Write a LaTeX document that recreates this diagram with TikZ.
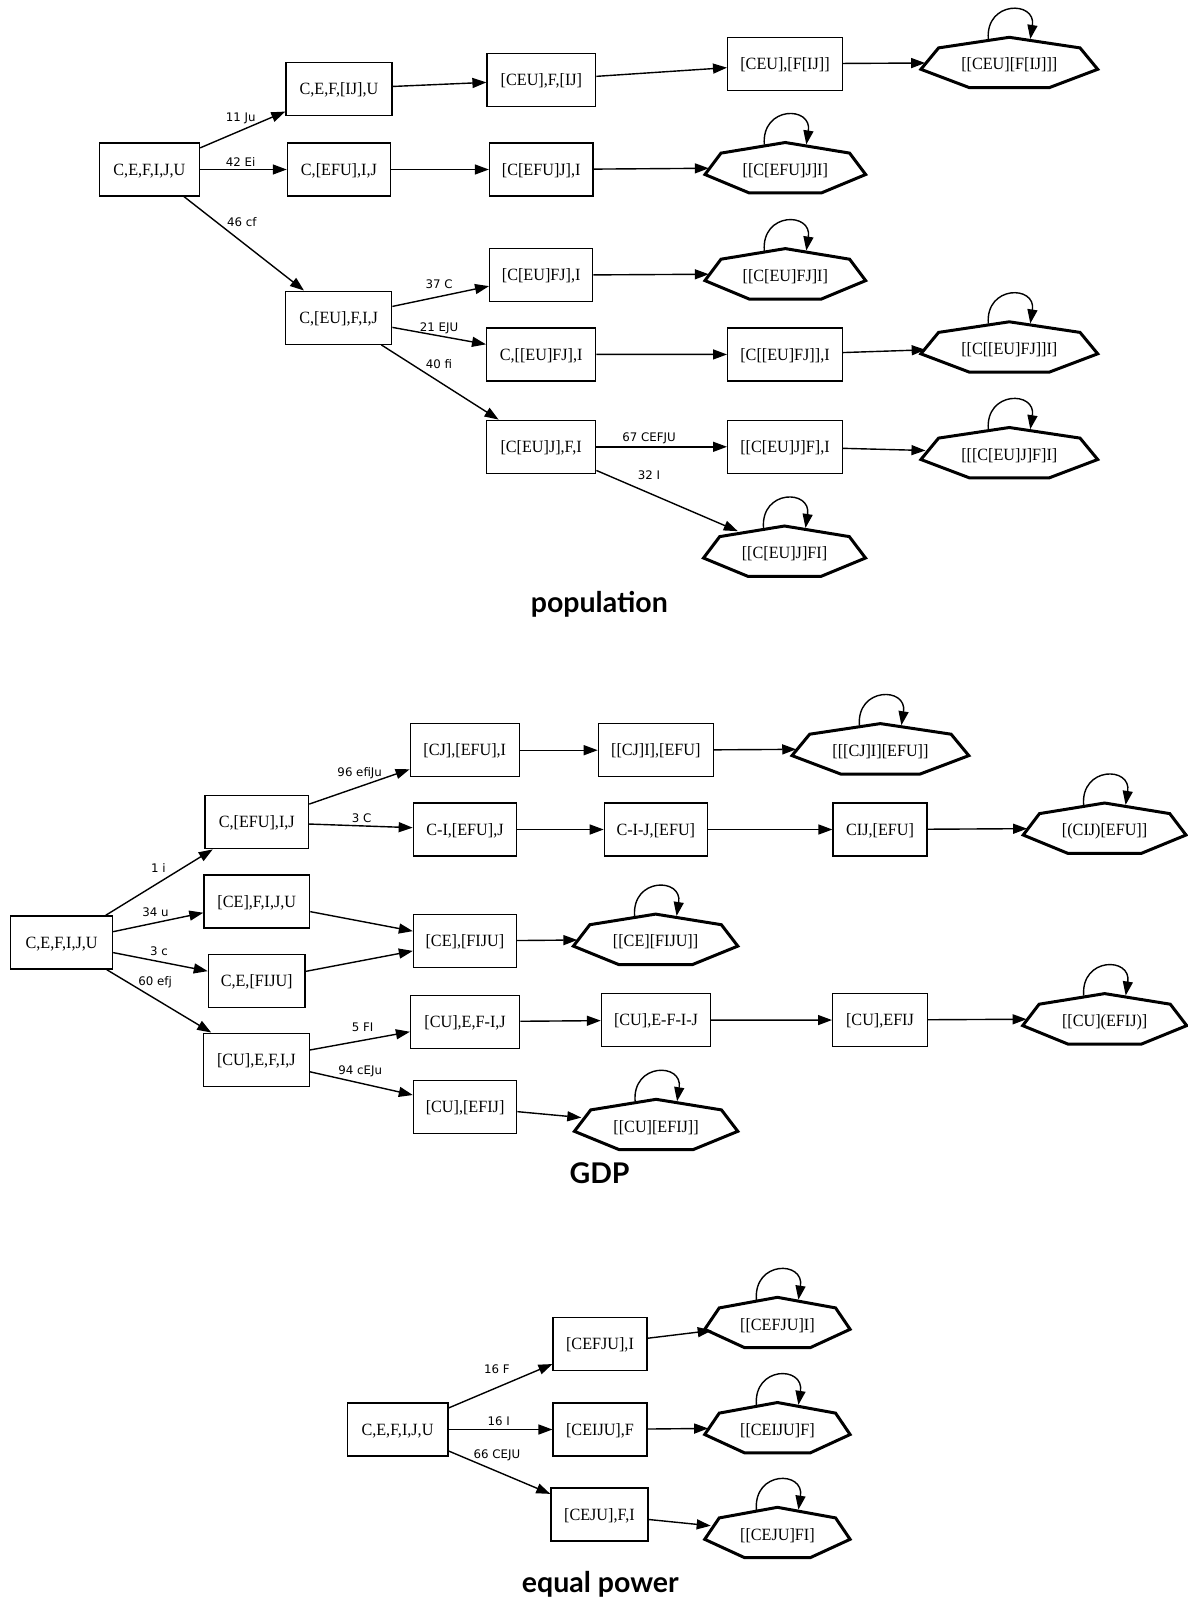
\documentclass[tikz,border=0pt]{standalone}
\usepackage{fontspec}
\newfontfamily\nodefont[FakeStretch=0.94]{Liberation Serif}
\newfontfamily\lblfont{DejaVu Sans}
\newfontfamily\titlefont{Lato}
\usetikzlibrary{arrows.meta,shapes.geometric}

\tikzset{
  statebox/.style={rectangle, draw=black, line width=1.4pt, minimum width=#1,
    minimum height=53pt, inner sep=0pt, text height=13.5pt, text depth=2pt,
    font=\nodefont\fontsize{17.2pt}{20pt}\selectfont},
  hepnode/.style={ellipse, minimum height=50pt, inner sep=0pt,
    text height=15pt, text depth=0pt,
    font=\nodefont\fontsize{17.2pt}{20pt}\selectfont},
  heptline/.style={line width=3pt, line join=miter},
  trans/.style={line width=1.4pt, -{Triangle[length=14pt,width=10pt]}},
  lbl/.style={font=\lblfont\fontsize{11.8pt}{13pt}\selectfont, inner sep=0pt},
  sectiontitle/.style={font=\titlefont\bfseries\fontsize{28.5pt}{32pt}\selectfont,
    anchor=base, inner sep=0pt},
}

% absorbing state: heptagon outline around a hidden elliptic node, with a self-loop
% #1 name, #2 x, #3 y, #4 half width, #5 text
\newcommand\heptstate[5]{%
  \node[hepnode, minimum width={1.9*#4}] (#1) at (#2,#3) {#5};
  \draw[heptline] ([shift={(0,-25.2)}]#1.center)
     -- ([shift={(0.80*#4,-14.6)}]#1.center)
     -- ([shift={(#4,6.8)}]#1.center)
     -- ([shift={(0.45*#4,25.2)}]#1.center)
     -- ([shift={(-0.45*#4,25.2)}]#1.center)
     -- ([shift={(-#4,6.8)}]#1.center)
     -- ([shift={(-0.80*#4,-14.6)}]#1.center) -- cycle;
  \draw[trans] ([shift={(-21,{-26.5+278.25/#4})}]#1.center)
     .. controls ([shift={(-24,-62)}]#1.center) and ([shift={(27,-62)}]#1.center)
     .. ([shift={(21,{-26.7+278.25/#4})}]#1.center);
}

\begin{document}
\begin{tikzpicture}[x=1pt,y=-1pt]
\useasboundingbox (0,0) rectangle (1187,1600);

% ---------------- population ----------------
\node[statebox=100]   (p0)  at (149.4,169.5) {C,E,F,I,J,U};
\node[statebox=105.8] (p1)  at (338.9,88.8)  {C,E,F,[IJ],U};
\node[statebox=108.6] (p2)  at (541.4,80)    {[CEU],F,[IJ]};
\node[statebox=114.6] (p3)  at (785,63.8)    {[CEU],[F[IJ]]};
\heptstate{p4}{1009.3}{62.5}{88.4}{[[CEU][F[IJ]]]}
\node[statebox=102.9] (p5)  at (338.9,169.5) {C,[EFU],I,J};
\node[statebox=103.3] (p6)  at (541.2,169.5) {[C[EFU]J],I};
\heptstate{p7}{785.3}{167.7}{80.35}{[[C[EFU]J]I]}
\node[statebox=106]   (p8)  at (338.7,317.7) {C,[EU],F,I,J};
\node[statebox=103]   (p9)  at (541.2,275.2) {[C[EU]FJ],I};
\heptstate{p10}{785.3}{273.8}{80.35}{[[C[EU]FJ]I]}
\node[statebox=109]   (p11) at (541.2,354.3) {C,[[EU]FJ],I};
\node[statebox=114.6] (p12) at (785,354.5)   {[C[[EU]FJ]],I};
\heptstate{p13}{1009.3}{347}{88.4}{[[C[[EU]FJ]]I]}
\node[statebox=109]   (p14) at (541.2,446.8) {[C[EU]J],F,I};
\node[statebox=114.6] (p15) at (785,446.8)   {[[C[EU]J]F],I};
\heptstate{p16}{1009.3}{452.7}{88.4}{[[[C[EU]J]F]I]}
\heptstate{p17}{784.5}{551.2}{81}{[[C[EU]J]FI]}

\draw[trans] (p0) -- (p1);
\draw[trans] (p0) -- (p5);
\draw[trans] (p0) -- (p8);
\draw[trans] (p1) -- (p2);
\draw[trans] (p2) -- (p3);
\draw[trans] (p3) -- (p4);
\draw[trans] (p5) -- (p6);
\draw[trans] (p6) -- (p7);
\draw[trans] (p8) -- (p9);
\draw[trans] (p8) -- (p11);
\draw[trans] (p8) -- (p14);
\draw[trans] (p9) -- (p10);
\draw[trans] (p11) -- (p12);
\draw[trans] (p12) -- (p13);
\draw[trans] (p14) -- (p15);
\draw[trans] (p14) -- (p17);
\draw[trans] (p15) -- (p16);

\node[lbl] (lp1) at (240.7,118.3) {11 Ju};
\node[lbl] (lp2) at (240.7,161.7) {42 Ei};
\node[lbl] (lp3) at (241.9,222.5) {46 cf};
\node[lbl] (lp4) at (439,284.3)   {37 C};
\node[lbl] (lp5) at (439,328.7)   {21 EJU};
\node[lbl] (lp6) at (439,363.7)   {40 fi};
\node[lbl] (lp7) at (649,438.7)   {67 CEFJU};
\node[lbl] (lp8) at (649,475.7)   {32 I};

\node[sectiontitle] (tpop) at (599.3,612.5) {population};

% ---------------- GDP ----------------
\node[statebox=101.8] (g0)  at (61.6,942.5)   {C,E,F,I,J,U};
\node[statebox=103.4] (g1)  at (256.8,822.2)  {C,[EFU],I,J};
\node[statebox=105.6] (g2)  at (256.8,901.5)  {[CE],F,I,J,U};
\node[statebox=96.5]  (g3)  at (256.7,980.7)  {C,E,[FIJU]};
\node[statebox=105.7] (g4)  at (256.4,1059.7) {[CU],E,F,I,J};
\node[statebox=109]   (g5)  at (464.8,750.2)  {[CJ],[EFU],I};
\node[statebox=103.3] (g6)  at (465,829.5)    {C-I,[EFU],J};
\node[statebox=102.7] (g7)  at (464.9,941)    {[CE],[FIJU]};
\node[statebox=109]   (g8)  at (465.1,1021.7) {[CU],E,F-I,J};
\node[statebox=103.2] (g9)  at (465.1,1106.8) {[CU],[EFIJ]};
\node[statebox=114.8] (g10) at (655.8,750.2)  {[[CJ]I],[EFU]};
\heptstate{g11}{880.4}{748.8}{88.4}{[[[CJ]I][EFU]]}
\node[statebox=102.8] (g12) at (655.8,829.5)  {C-I-J,[EFU]};
\node[statebox=94]    (g13) at (880.1,829.5)  {CIJ,[EFU]};
\heptstate{g14}{1104.6}{828.2}{81.4}{[(CIJ)[EFU]]}
\heptstate{g15}{655.6}{939.3}{82.2}{[[CE][FIJU]]}
\node[statebox=109]   (g16) at (656,1020.2)   {[CU],E-F-I-J};
\node[statebox=94.6]  (g17) at (880,1020)     {[CU],EFIJ};
\heptstate{g18}{1104.7}{1018.8}{82}{[[CU](EFIJ)]}
\heptstate{g19}{656.1}{1124.5}{81.7}{[[CU][EFIJ]]}

\draw[trans] (g0) -- (g1);
\draw[trans] (g0) -- (g2);
\draw[trans] (g0) -- (g3);
\draw[trans] (g0) -- (g4);
\draw[trans] (g1) -- (g5);
\draw[trans] (g1) -- (g6);
\draw[trans] (g5) -- (g10);
\draw[trans] (g10) -- (g11);
\draw[trans] (g6) -- (g12);
\draw[trans] (g12) -- (g13);
\draw[trans] (g13) -- (g14);
\draw[trans] (g2) -- (g7);
\draw[trans] (g3) -- (g7);
\draw[trans] (g7) -- (g15);
\draw[trans] (g4) -- (g8);
\draw[trans] (g4) -- (g9);
\draw[trans] (g8) -- (g16);
\draw[trans] (g16) -- (g17);
\draw[trans] (g17) -- (g18);
\draw[trans] (g9) -- (g19);

\node[lbl] (lg1) at (359.7,772.7)  {96 efiJu};
\node[lbl] (lg2) at (361.7,818.3)  {3 C};
\node[lbl] (lg3) at (158.5,868.3)  {1 i};
\node[lbl] (lg4) at (155.5,912.3)  {34 u};
\node[lbl] (lg5) at (159,951)      {3 c};
\node[lbl] (lg6) at (155.1,982.7)  {60 efj};
\node[lbl] (lg7) at (362.6,1027.7) {5 FI};
\node[lbl] (lg8) at (360.2,1071.3) {94 cEJu};

\node[sectiontitle] (tgdp) at (599.6,1183.3) {GDP};

% ---------------- equal power ----------------
\node[statebox=100.6] (e0) at (397.5,1429.5) {C,E,F,I,J,U};
\node[statebox=93.7]  (e1) at (600,1344)     {[CEFJU],I};
\node[statebox=93.7]  (e2) at (600,1429.5)   {[CEIJU],F};
\node[statebox=96.8]  (e3) at (599.4,1514.5) {[CEJU],F,I};
\heptstate{e4}{777.4}{1322.5}{72.7}{[[CEFJU]I]}
\heptstate{e5}{777.4}{1427.7}{72.7}{[[CEIJU]F]}
\heptstate{e6}{777.4}{1532.5}{72.7}{[[CEJU]FI]}

\draw[trans] (e0) -- (e1);
\draw[trans] (e0) -- (e2);
\draw[trans] (e0) -- (e3);
\draw[trans] (e1) -- (e4);
\draw[trans] (e2) -- (e5);
\draw[trans] (e3) -- (e6);

\node[lbl] (le1) at (497,1369.3)   {16 F};
\node[lbl] (le2) at (498.7,1421.3) {16 I};
\node[lbl] (le3) at (497,1455)     {66 CEJU};

\node[sectiontitle] (teq) at (600.3,1592) {equal power};
\end{tikzpicture}
\end{document}
